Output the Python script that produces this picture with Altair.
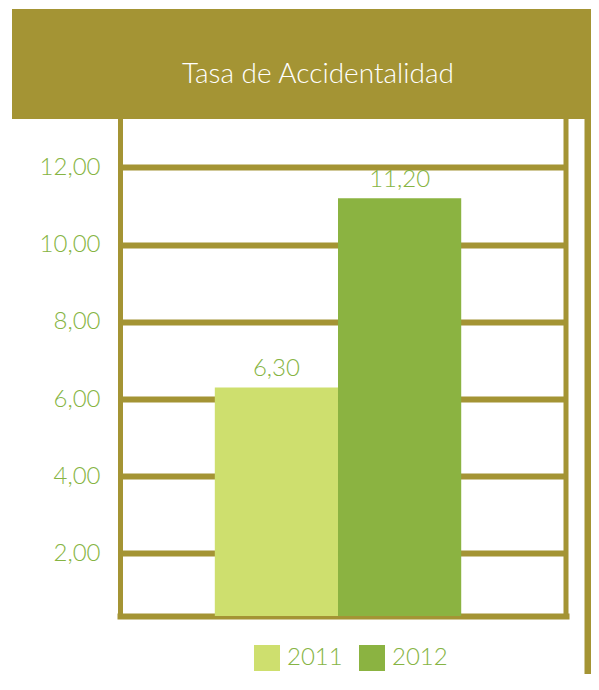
import altair as alt
import pandas as pd

# ---- data ----
years = ["2011", "2012"]
rates = [6.30, 11.20]
y_ticks = [2, 4, 6, 8, 10, 12]
title_text = "Tasa de Accidentalidad"

# ---- style ----
OLIVE = "#A49434"
GREEN = "#86B443"
C2011 = "#CEDF6E"
C2012 = "#8BB341"
FONT = "Lato"
FW = 300
YMIN, YMAX = 0.38, 13.23
W, H = 446, 496

df = pd.DataFrame({"year": years, "rate": rates})
one = pd.DataFrame({"t": [title_text]})

fmt = "replace(format({v}, '.2f'), '.', ',')"

bars = alt.Chart(df).mark_bar().encode(
    x=alt.X(
        "year:N",
        sort=years,
        scale=alt.Scale(paddingInner=0, paddingOuter=0.81, align=0.475),
        axis=alt.Axis(title=None, labels=False, ticks=False, grid=False,
                      domainColor=OLIVE, domainWidth=6, domainCap="square"),
    ),
    y=alt.Y(
        "rate:Q",
        scale=alt.Scale(domain=[YMIN, YMAX], zero=False, nice=False),
        axis=alt.Axis(values=y_ticks, title=None, ticks=False,
                      domainColor=OLIVE, domainWidth=5, domainCap="square",
                      grid=True, gridColor=OLIVE, gridWidth=6,
                      labelExpr=fmt.format(v="datum.value"),
                      labelColor=GREEN, labelFontSize=24, labelFont=FONT,
                      labelFontWeight=FW, labelPadding=20, labelBaseline="middle"),
    ),
    y2=alt.Y2Datum(YMIN),
    color=alt.Color(
        "year:N",
        scale=alt.Scale(domain=years, range=[C2011, C2012]),
        legend=alt.Legend(
            title=None, orient="none", legendX=134, legendY=525,
            direction="horizontal", symbolType="square", symbolSize=676,
            symbolStrokeWidth=0, symbolOpacity=1, labelFontSize=24,
            labelColor=GREEN, labelFont=FONT, labelFontWeight=FW,
            columnPadding=16, labelOffset=7, padding=0,
        ),
    ),
)

labels = alt.Chart(df).transform_calculate(
    lbl=fmt.format(v="datum.rate")
).mark_text(dy=-11, baseline="alphabetic", fontSize=24, color=GREEN,
            font=FONT, fontWeight=FW).encode(
    x=alt.X("year:N", sort=years),
    y="rate:Q",
    text="lbl:N",
)

inner_rule = alt.Chart(one).mark_rule(color=OLIVE, strokeWidth=5).encode(
    x=alt.value(W), y=alt.value(-1), y2=alt.value(H + 3)
)
outer_rule = alt.Chart(one).mark_rule(color=OLIVE, strokeWidth=7).encode(
    x=alt.value(468), y=alt.value(-1), y2=alt.value(700)
)
band = alt.Chart(one).mark_rect(color=OLIVE).encode(
    x=alt.value(-108), x2=alt.value(500), y=alt.value(-111), y2=alt.value(-1)
)
title = alt.Chart(one).mark_text(
    fontSize=28, color="white", font=FONT, fontWeight=FW,
    align="center", baseline="alphabetic"
).encode(x=alt.value(198), y=alt.value(-37), text="t:N")

chart = alt.layer(bars, labels, inner_rule, outer_rule, band, title).properties(
    width=W, height=H,
    autosize=alt.AutoSizeParams(type="none"),
    padding={"left": 112, "top": 112, "right": 25, "bottom": 58},
).configure_view(stroke=None)

chart.save("out.html", embed_options={"renderer": "svg", "actions": False})
